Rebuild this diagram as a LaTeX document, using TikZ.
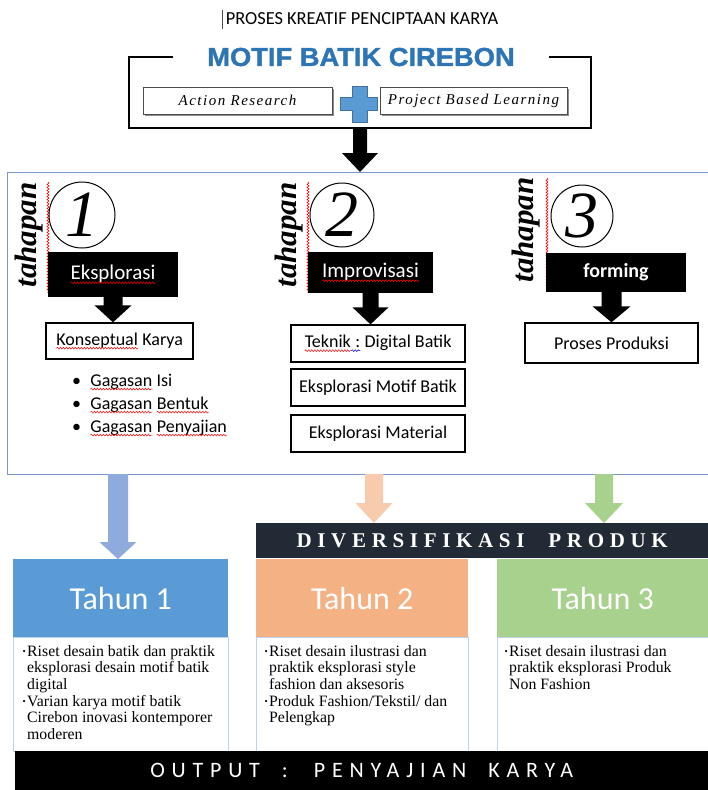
\documentclass[tikz,border=0pt]{standalone}
\usepackage{fontspec}
\usetikzlibrary{calc,decorations.pathmorphing,shadows}
\newfontfamily\calfont{Carlito}
\newfontfamily\calsp{Carlito}[LetterSpace=31]
\newfontfamily\arialheavy{Liberation Sans}[BoldFeatures={FakeBold=1.3}]
\newfontfamily\tnr{Liberation Serif}
\newfontfamily\tnrsp{Liberation Serif}[LetterSpace=10]
\newfontfamily\tnrdiv{Liberation Serif}[LetterSpace=27]
\definecolor{motifblue}{RGB}{46,117,182}
\definecolor{plusblue}{RGB}{91,155,213}
\definecolor{plusdark}{RGB}{65,113,156}
\definecolor{mainborder}{RGB}{120,150,200}
\definecolor{arrblue}{RGB}{143,170,220}
\definecolor{arrorange}{RGB}{248,203,173}
\definecolor{arrgreen}{RGB}{169,209,142}
\definecolor{tblue}{RGB}{91,155,213}
\definecolor{torange}{RGB}{244,177,131}
\definecolor{tgreen}{RGB}{169,209,142}
\definecolor{divdark}{RGB}{34,42,53}
\definecolor{lightborder}{RGB}{189,210,235}
\tikzset{
  wavenode/.style={inner sep=0pt, outer sep=0pt, draw=none, fill=none, minimum width=0pt,
    minimum height=0pt, anchor=base, rectangle},
  waveline/.style={line width=0.5pt, fill=none, decorate,
    decoration={snake, amplitude=0.9pt, segment length=3pt}},
}
\newcommand\wavyword[2]{\tikz[baseline=(w.base)]{\node[wavenode] (w) at (0,0) {#2};
  \draw[waveline, draw=#1] ([yshift=-3pt]w.base west) -- ([yshift=-3pt]w.base east);}}
\newcommand\redwave[1]{\wavyword{red}{#1}}
\newcommand\bluewave[1]{\wavyword{blue}{#1}}
\newcommand\blockarr[6]{%
  \fill[#6] let \p1=(#1), \p2=(#2) in
  (\x1-#3,\y1) -- (\x1+#3,\y1) -- (\x1+#3,\y2+#5) -- (\x1+#4,\y2+#5) -- (\x1,\y2)
  -- (\x1-#4,\y2+#5) -- (\x1-#3,\y2+#5) -- cycle;}
\newcommand\dbul{\llap{\raisebox{1.5pt}{\fontsize{9}{9}\selectfont•}\hspace{1.5pt}}}
\begin{document}
\begin{tikzpicture}[x=1pt,y=-1pt,
  box/.style={draw=black, line width=1.3pt, fill=white, inner sep=0pt,
    font=\calfont\fontsize{18}{20}\selectfont},
  blk/.style={fill=black, inner sep=0pt, text=white},
  circ/.style={draw=black, line width=1pt, circle, inner sep=0pt,
    font=\tnr\itshape\fontsize{66}{66}\selectfont},
  tah/.style={rotate=90, inner sep=0pt, font=\tnr\bfseries\itshape\fontsize{31}{31}\selectfont},
  redsq/.style={red, line width=0.6pt, decorate, decoration={snake, amplitude=1pt, segment length=3pt}},
  arbox/.style={draw=black!70, line width=0.6pt, fill=white, minimum height=27pt, inner sep=0pt,
    drop shadow={shadow xshift=2pt, shadow yshift=-2pt, fill=black!45, opacity=1},
    font=\tnrsp\itshape\fontsize{15}{17}\selectfont},
  bul/.style={inner sep=0pt, font=\calfont\fontsize{18}{20}\selectfont},
  tahun/.style={anchor=north west, inner sep=0pt, minimum height=78pt, text=white,
    font=\calfont\fontsize{32}{34}\selectfont},
  desc/.style={anchor=north west, inner sep=0pt, minimum height=114pt, draw=lightborder, line width=0.8pt},
  desctext/.style={anchor=north west, inner sep=0pt, align=left, font=\tnr\fontsize{15.8}{16.7}\selectfont},
]
\fill[white] (0,0) rectangle (707,790);
\useasboundingbox (0,0) rectangle (707,790);

% title
\node[font=\calfont\fontsize{18.4}{20}\selectfont, inner sep=0pt] (title) at (362,19) {PROSES KREATIF PENCIPTAAN KARYA};
\draw[black!70, line width=0.6pt] (222,10) -- (222,29);
\node[font=\arialheavy\bfseries\fontsize{26}{28}\selectfont, xscale=1.05, text=motifblue, inner sep=0pt] (motif) at (361,57) {MOTIF BATIK CIREBON};
\draw[line width=2.6pt, line join=miter] (173,57) -- (129,57) -- (129,128) -- (591,128) -- (591,57) -- (549,57);

\node[arbox, minimum width=189pt] (ar) at (237.5,100.5) {Action Research};
\node[arbox, minimum width=187pt] (pbl) at (473.5,100.5) {Project Based Learning};
\fill[plusblue, draw=plusdark, line width=0.6pt] (352,86) -- (367,86) -- (367,97) -- (377,97) -- (377,110) -- (367,110)
  -- (367,122) -- (352,122) -- (352,110) -- (340,110) -- (340,97) -- (352,97) -- cycle;

% main box
\node[draw=mainborder, line width=1.3pt, anchor=north west, inner sep=0pt,
  minimum width=702pt, minimum height=302pt] (main) at (7,172) {};
\coordinate (brb) at (360,128);
\blockarr{brb}{brb |- main.north}{7pt}{18pt}{19pt}{black}

% stage 1
\node[tah] (tah1) at (29,235) {tahapan};
\draw[redsq] (48,182) -- (48,293);
\node[circ, minimum size=66pt] (c1) at (82,215) {1};
\node[blk, minimum width=130pt, minimum height=45pt, font=\calfont\fontsize{21}{22}\selectfont] (r1) at (113,274.5) {\redwave{Eksplorasi}};
\node[box, minimum width=147pt, minimum height=36pt] (k1) at (119.5,341) {\redwave{Konseptual} Karya};
\blockarr{r1.south}{r1.south |- k1.north}{9.5pt}{18.5pt}{17pt}{black}
\node[bul, anchor=west] (g1) at (90,382) {\llap{•\hspace{9pt}}\redwave{Gagasan} Isi};
\node[bul, anchor=west] (g2) at (90,405) {\llap{•\hspace{9pt}}\redwave{Gagasan} \redwave{Bentuk}};
\node[bul, anchor=west] (g3) at (90,428) {\llap{•\hspace{9pt}}\redwave{Gagasan} \redwave{Penyajian}};

% stage 2
\node[tah] (tah2) at (289,235) {tahapan};
\draw[redsq] (308,182) -- (308,293);
\node[circ, minimum size=64pt] (c2) at (342,215) {2};
\node[blk, minimum width=125pt, minimum height=41pt, font=\calfont\fontsize{21}{22}\selectfont] (r2) at (370.5,272.5) {\redwave{Improvisasi}};
\node[box, minimum width=174pt, minimum height=37pt] (tk) at (378,343.5) {\redwave{Teknik}\bluewave{\ :} Digital Batik};
\node[box, minimum width=174pt, minimum height=37pt] (em) at (378,387.5) {Eksplorasi Motif Batik};
\node[box, minimum width=174pt, minimum height=37pt] (ema) at (378,433.5) {Eksplorasi Material};
\blockarr{r2.south}{r2.south |- tk.north}{8pt}{18pt}{17pt}{black}

% stage 3
\node[tah] (tah3) at (526,230) {tahapan};
\draw[redsq] (547,178) -- (547,288);
\node[circ, minimum size=62pt] (c3) at (582,216) {3};
\node[blk, minimum width=140pt, minimum height=39pt, font=\calfont\bfseries\fontsize{20}{22}\selectfont] (r3) at (616,272.5) {forming};
\node[box, minimum width=173pt, minimum height=40pt] (p3) at (611.5,343) {Proses Produksi};
\blockarr{p3.north |- r3.south}{p3.north}{10pt}{19pt}{16pt}{black}

% lower part
\node[fill=divdark, minimum width=452pt, minimum height=35pt, inner sep=0pt, anchor=north west, text=white,
  font=\tnrdiv\bfseries\fontsize{21}{21}\selectfont] (div) at (256,523) {DIVERSIFIKASI\hspace{24pt}PRODUK};
\node[tahun, fill=tblue, minimum width=215pt] (t1) at (13,559) {Tahun 1};
\node[tahun, fill=torange, minimum width=212pt] (t2) at (256,559) {Tahun 2};
\node[tahun, fill=tgreen, minimum width=211pt] (t3) at (497,559) {Tahun 3};
\node[desc, minimum width=215pt] (d1) at (13,637) {};
\node[desc, minimum width=212pt] (d2) at (256,637) {};
\node[desc, minimum width=211pt] (d3) at (497,637) {};

\coordinate (ab) at (118,474);
\coordinate (ao) at (374,474);
\coordinate (ag) at (604,474);
\blockarr{ab}{ab |- t1.north}{10pt}{18.5pt}{17pt}{arrblue}
\blockarr{ao}{ao |- div.north}{9pt}{18.5pt}{20pt}{arrorange}
\blockarr{ag}{ag |- div.north}{9pt}{19pt}{20pt}{arrgreen}

\node[desctext] (x1) at (27,645) {\dbul Riset desain batik dan praktik\\ eksplorasi desain motif batik\\ digital\\ \dbul Varian karya motif batik\\ Cirebon inovasi kontemporer\\ moderen};
\node[desctext] (x2) at (269,645) {\dbul Riset desain ilustrasi dan\\ praktik eksplorasi style\\ fashion dan aksesoris\\ \dbul Produk Fashion/Tekstil/ dan\\ Pelengkap};
\node[desctext] (x3) at (509,645) {\dbul Riset desain ilustrasi dan\\ praktik eksplorasi Produk\\ Non Fashion};

\node[fill=black, anchor=north west, inner sep=0pt, minimum width=693pt, minimum height=39pt, text=white,
  font=\calsp\fontsize{22}{22}\selectfont] (out) at (15,751) {OUTPUT\hspace{22pt}:\hspace{26pt}PENYAJIAN\hspace{22pt}KARYA};
\end{tikzpicture}
\end{document}
